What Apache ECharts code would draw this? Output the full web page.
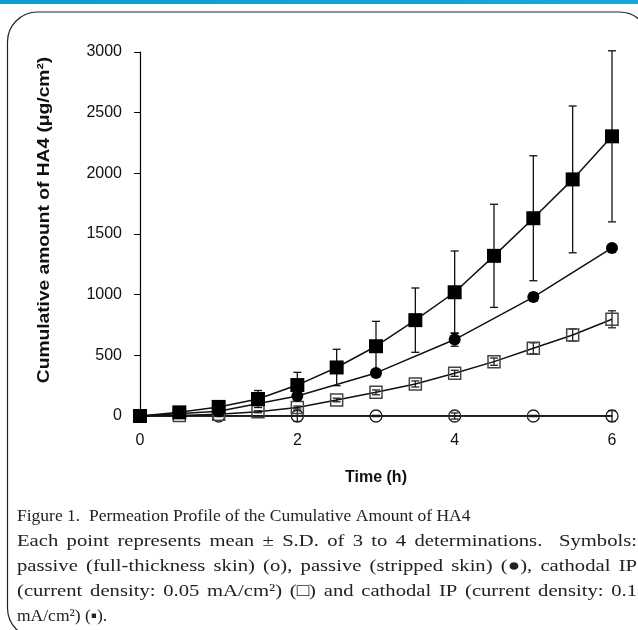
<!DOCTYPE html>
<html>
<head>
<meta charset="utf-8">
<script src="https://cdn.jsdelivr.net/npm/echarts@6/dist/echarts.min.js"></script>
<style>html,body{margin:0;padding:0;background:#fff;}#c{width:638px;height:630px;}</style>
</head>
<body>
<div id="c"></div>
<script>
// Time points (h)
const timeHalf = [0, 0.5, 1, 1.5, 2, 2.5, 3, 3.5, 4, 4.5, 5, 5.5, 6];
const timeHour = [0, 1, 2, 3, 4, 5, 6];
// Cathodal IP 0.1 mA/cm2 (filled squares)
const ipHighMean = [0, 30, 75, 140, 255, 400, 575, 790, 1020, 1320, 1630, 1950, 2305];
const ipHighSD   = [0, 10, 20, 70, 105, 150, 205, 265, 340, 425, 515, 605, 705];
// Cathodal IP 0.05 mA/cm2 (open squares)
const ipLowMean = [0, 5, 15, 35, 70, 132, 195, 264, 352, 448, 558, 668, 797];
const ipLowSD   = [0, 3, 5, 8, 12, 15, 20, 25, 25, 30, 45, 50, 70];
// Passive, stripped skin (filled circles)
const stripMean = [0, 40, 165, 355, 630, 980, 1385];
const stripSD   = [0, 10, 25, 20, 55, 35, 25];
// Passive, full-thickness skin (open circles)
const fullMean = [0, 0, 0, 0, 0, 0, 0];
const fullSD   = [0, 5, 45, 5, 25, 5, 45];
// Axis ticks
const yTicks = [0, 500, 1000, 1500, 2000, 2500, 3000];
const xTicks = [0, 2, 4, 6];
// Caption
const captionLines = [
  'Figure 1.  Permeation Profile of the Cumulative Amount of HA4',
  'Each point represents mean \u00B1 S.D. of 3 to 4 determinations.  Symbols:',
  'passive (full-thickness skin) (o), passive (stripped skin) (\u25CF), cathodal IP',
  '(current density: 0.05 mA/cm\u00B2) (\u25A1) and cathodal IP (current density: 0.1',
  'mA/cm\u00B2) (\u25AA).'
];
const captionJustify = [false, true, true, true, false];

const pairs = (t, m) => t.map((x, i) => [x, m[i]]);
const errData = (t, m, s) => t.map((x, i) => [x, m[i] - s[i], m[i] + s[i]]);

function errSeries(t, m, s, color) {
  return {
    type: 'custom',
    z: 1,
    silent: true,
    data: errData(t, m, s),
    renderItem: function (params, api) {
      const x = api.value(0);
      const lo = api.coord([x, api.value(1)]);
      const hi = api.coord([x, api.value(2)]);
      const w = 4;
      const st = { stroke: color, lineWidth: 1.3 };
      return {
        type: 'group',
        children: [
          { type: 'line', shape: { x1: lo[0], y1: lo[1], x2: hi[0], y2: hi[1] }, style: st },
          { type: 'line', shape: { x1: hi[0] - w, y1: hi[1], x2: hi[0] + w, y2: hi[1] }, style: st },
          { type: 'line', shape: { x1: lo[0] - w, y1: lo[1], x2: lo[0] + w, y2: lo[1] }, style: st }
        ]
      };
    }
  };
}

const captionFont = '17.5px "Liberation Serif", "Times New Roman", serif';
const measureCtx = document.createElement('canvas').getContext('2d');
measureCtx.font = captionFont;
const mw = s => measureCtx.measureText(s).width;
const capLeft = 17, capRight = 637, maxScale = 1.18;

function captionElements() {
  const els = [];
  captionLines.forEach((line, i) => {
    const y = 516 + i * 25;
    const style = { font: captionFont, fill: '#222', textAlign: 'left', textVerticalAlign: 'middle' };
    if (!captionJustify[i]) {
      els.push({ type: 'text', z: 100, x: capLeft, y: y, style: Object.assign({ text: line }, style) });
      return;
    }
    const totalSpaces = (line.match(/ /g) || []).length;
    const target = capRight - capLeft;
    // keep at least ~1.5px extra per space
    const sc = Math.min(maxScale, (target - totalSpaces * 1.5) / mw(line));
    const natural = mw(line) * sc;
    const extra = target - natural;
    const re = /\S+/g;
    let m;
    while ((m = re.exec(line)) !== null) {
      const prefix = line.substring(0, m.index);
      const nsp = (prefix.match(/ /g) || []).length;
      const x = capLeft + mw(prefix) * sc + extra * nsp / totalSpaces;
      els.push({ type: 'text', z: 100, x: x, y: y, scaleX: sc,
        style: Object.assign({ text: m[0] }, style) });
    }
  });
  return els;
}

const chart = echarts.init(document.getElementById('c'), null, { renderer: 'canvas' });

chart.setOption({
  animation: false,
  backgroundColor: '#fff',
  grid: { left: 140, right: 26, top: 52, bottom: 214 },
  xAxis: {
    type: 'value', min: 0, max: 6, interval: 2,
    axisLine: { show: true, lineStyle: { color: '#000', width: 1.5 } },
    axisTick: { show: false },
    splitLine: { show: false },
    axisLabel: { color: '#111', fontSize: 16, fontFamily: 'Liberation Sans, Arial', margin: 17,
      formatter: v => xTicks.includes(v) ? String(v) : '' }
  },
  yAxis: {
    type: 'value', min: 0, max: 3000, interval: 500,
    axisLine: { show: true, lineStyle: { color: '#000', width: 1.2 } },
    axisTick: { show: true, inside: false, length: 6, lineStyle: { color: '#000' } },
    splitLine: { show: false },
    axisLabel: { color: '#111', fontSize: 16, fontFamily: 'Liberation Sans, Arial', margin: 18,
      formatter: v => yTicks.includes(v) ? String(v) : '' }
  },
  graphic: [
    { type: 'rect', left: 0, top: 0, z: 100, shape: { width: 638, height: 4 },
      style: { fill: new echarts.graphic.LinearGradient(0, 0, 1, 0, [
        { offset: 0, color: '#0f9ad3' }, { offset: 1, color: '#1aa6dc' }]) } },
    { type: 'rect', z: 0, shape: { x: 7.5, y: 12, width: 642, height: 626, r: 30 },
      style: { fill: 'none', stroke: '#222', lineWidth: 1.2 } },
    { type: 'text', z: 100, x: 45, y: 220, rotation: Math.PI / 2, scaleX: 1.2,
      style: { text: 'Cumulative amount of HA4 (\u03BCg/cm\u00B2)', font: 'bold 16px "Liberation Sans", Arial',
        fill: '#111', textAlign: 'center', textVerticalAlign: 'middle' } },
    { type: 'text', z: 100, x: 376, y: 478,
      style: { text: 'Time (h)', font: 'bold 16px "Liberation Sans", Arial',
        fill: '#111', textAlign: 'center', textVerticalAlign: 'middle' } }
  ].concat(captionElements()),
  series: [
    errSeries(timeHalf, ipHighMean, ipHighSD, '#111'),
    errSeries(timeHalf, ipLowMean, ipLowSD, '#222'),
    errSeries(timeHour, stripMean, stripSD, '#111'),
    errSeries(timeHour, fullMean, fullSD, '#222'),
    { type: 'line', name: 'full', data: pairs(timeHour, fullMean), z: 3,
      lineStyle: { color: '#111', width: 1.5 }, symbol: 'circle', symbolSize: 12,
      itemStyle: { color: 'rgba(255,255,255,0)', borderColor: '#222', borderWidth: 1.3 } },
    { type: 'line', name: 'low', data: pairs(timeHalf, ipLowMean), z: 4,
      lineStyle: { color: '#111', width: 1.5 }, symbol: 'rect', symbolSize: 12,
      itemStyle: { color: 'rgba(255,255,255,0)', borderColor: '#444', borderWidth: 1.5 } },
    { type: 'line', name: 'strip', data: pairs(timeHour, stripMean), z: 5,
      lineStyle: { color: '#111', width: 1.5 }, symbol: 'circle', symbolSize: 12,
      itemStyle: { color: '#000', borderColor: '#000', borderWidth: 0 } },
    { type: 'line', name: 'high', data: pairs(timeHalf, ipHighMean), z: 6,
      lineStyle: { color: '#111', width: 1.5 }, symbol: 'rect', symbolSize: 14,
      itemStyle: { color: '#000', borderColor: '#000', borderWidth: 0 } }
  ]
});
</script>
</body>
</html>
